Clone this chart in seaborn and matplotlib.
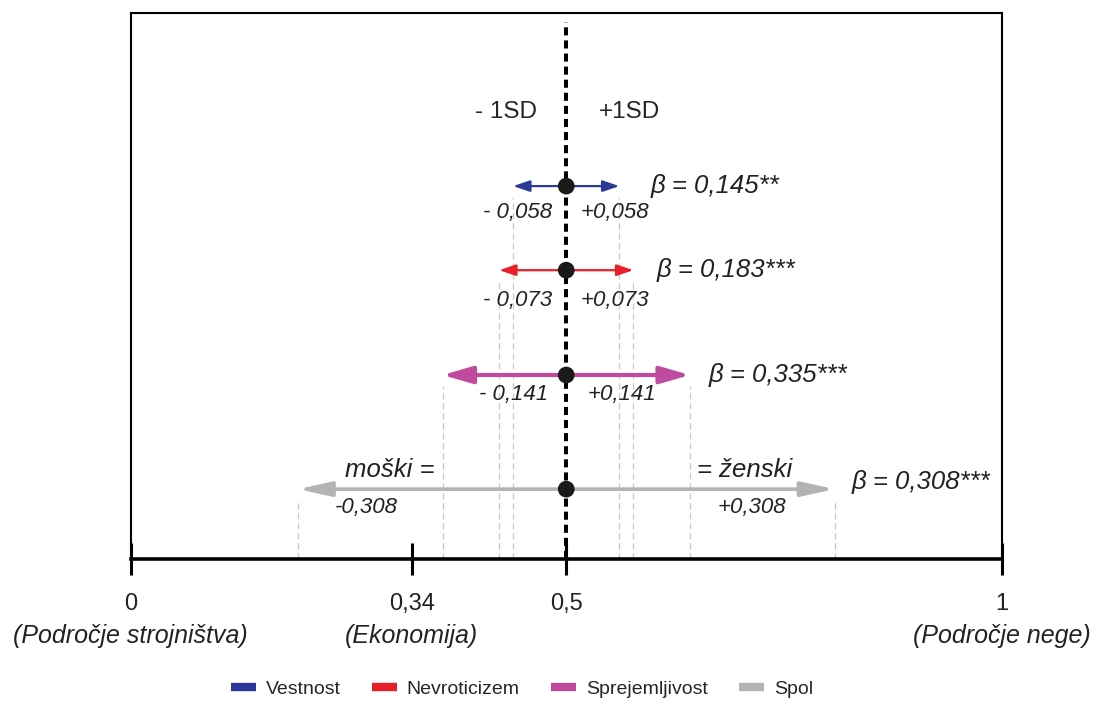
import matplotlib
matplotlib.use("Agg")
import matplotlib.pyplot as plt
from matplotlib.lines import Line2D
from matplotlib.patches import FancyArrowPatch
import pandas as pd
import seaborn as sns

factors = ["Vestnost", "Nevroticizem", "Sprejemljivost", "Spol"]
betas = ["0,145**", "0,183***", "0,335***", "0,308***"]
sd_labels = ["0,058", "0,073", "0,141", "0,308"]
centre = 0.5
# half length of each arrow as drawn in the picture
half_width = [0.061, 0.077, 0.142, 0.308]
row_level = [0.683, 0.529, 0.337, 0.128]
tick_pos = [0, 0.3225, 0.5, 1]
tick_labels = ["0", "0,34", "0,5", "1"]
tick_notes = ["(Področje strojništva)", "(Ekonomija)", "", "(Področje nege)"]
colors = ["#2b3a98", "#e8202a", "#c04a9e", "#b3b3b3"]

sns.set_style("white")
plt.rcParams["font.family"] = ["Liberation Sans", "DejaVu Sans"]

df = pd.DataFrame({"factor": factors, "level": row_level,
                   "lo": [centre - h for h in half_width],
                   "hi": [centre + h for h in half_width]})
df["centre"] = centre

fig = plt.figure(figsize=(10.96, 7.07), dpi=100)
ax = fig.add_axes([0.1191, 0.2093, 0.7951, 0.7723])
ax.set_xlim(0, 1)
ax.set_ylim(0, 1)
px = 1 / 546.0
txt = "#222222"

# style per row
arrow_lw = [1.6, 1.6, 3.0, 2.6]
head_len = [10, 10, 18, 20]
head_wid = [3.4, 3.4, 5.2, 4.4]

for i, row in df.iterrows():
    ax.add_patch(FancyArrowPatch(
        (row.lo, row.level), (row.hi, row.level),
        arrowstyle=f"<|-|>,head_length={head_len[i]},head_width={head_wid[i]}",
        mutation_scale=1, shrinkA=0, shrinkB=0, color=colors[i],
        lw=arrow_lw[i], zorder=3))
    for xe in (row.lo, row.hi):
        ax.plot([xe, xe], [0, row.level - 11 * px], color="#c8c8c8",
                lw=0.9, ls=(0, (5, 3)), zorder=1)

ax.axvline(centre, ymin=0, ymax=0.984, color="black", lw=2.9,
           ls=(0, (2, 1.25)), zorder=2)
sns.scatterplot(data=df, x="centre", y="level", color="#1a1a1a", s=145,
                edgecolor="none", zorder=5, ax=ax, legend=False)

ax.text(0.466, 0.819, "- 1SD", ha="right", va="center", fontsize=17.5)
ax.text(0.537, 0.819, "+1SD", ha="left", va="center", fontsize=17.5)

# value labels under the arrows
num_dy = [26, 30, 19, 18]
beta_gap = [31, 23, 19, 17]
beta_dy = [0, 0, 0, 7]
for i, row in df.iterrows():
    y = row.level - num_dy[i] * px
    if i < 3:
        xl = 0.4843 if i < 2 else 0.479
        xr = 0.516 if i < 2 else 0.525
        ax.text(xl, y, "- " + sd_labels[i], ha="right", va="center",
                fontsize=16, style="italic", color=txt)
        ax.text(xr, y, "+" + sd_labels[i], ha="left", va="center",
                fontsize=16, style="italic", color=txt)
    else:
        ax.text(0.271, y, "-" + sd_labels[i], ha="center", va="center",
                fontsize=16, style="italic", color=txt)
        ax.text(0.713, y, "+" + sd_labels[i], ha="center", va="center",
                fontsize=16, style="italic", color=txt)
    ax.text(row.hi + beta_gap[i] / 871.5, row.level + beta_dy[i] * px,
            "β = " + betas[i], ha="left", va="center", fontsize=18.5,
            style="italic", color=txt)

ax.text(0.349, row_level[3] + 19 * px, "moški =", ha="right", va="center",
        fontsize=18.5, style="italic", color=txt)
ax.text(0.650, row_level[3] + 19 * px, "= ženski", ha="left", va="center",
        fontsize=18.5, style="italic", color=txt)

# frame and axis
ax.set_yticks([])
for side in ("top", "left", "right"):
    ax.spines[side].set_linewidth(1.5)
    ax.spines[side].set_color("black")
ax.spines["bottom"].set_linewidth(2.6)
ax.spines["bottom"].set_color("black")
ax.set_xticks(tick_pos, tick_labels)
ax.tick_params(axis="x", direction="inout", length=23, width=2.2,
               color="black", labelsize=17, pad=13, bottom=True,
               labelcolor=txt)
for xn, note in zip(tick_pos, tick_notes):
    ax.text(xn, -77 * px, note, ha="center", va="center", fontsize=18,
            style="italic", color=txt, clip_on=False)
ax.set_xlabel("")
ax.set_ylabel("")

handles = [Line2D([], [], color=c, lw=6, solid_capstyle="butt")
           for c in colors]
fig.legend(handles, factors, loc="center", bbox_to_anchor=(0.476, 0.025),
           ncol=4, frameon=False, fontsize=14, handlelength=1.3,
           handletextpad=0.5, columnspacing=1.6)

fig.savefig("out.png", dpi=100)
